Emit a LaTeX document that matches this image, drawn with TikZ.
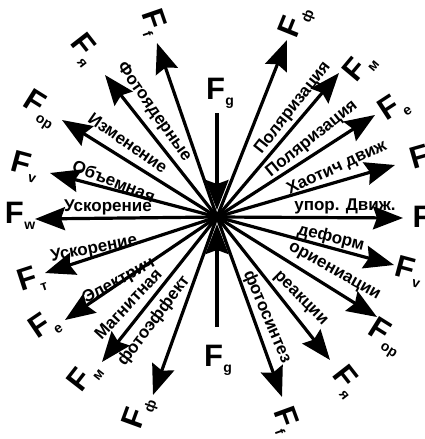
\documentclass[tikz,border=0pt]{standalone}
\usepackage{fontspec}
\setmainfont{Liberation Sans}
\usetikzlibrary{arrows.meta}
\newcommand\flab[1]{{\fontsize{31}{31}\selectfont F}\kern0.5pt\raisebox{-6pt}{\fontsize{14}{14}\selectfont #1}}
\begin{document}
\begin{tikzpicture}[x=1pt,y=-1pt,
  arr/.style={line width=3.2pt,-{Stealth[length=30pt,width=23pt,inset=4pt]}},
  txt/.style={font=\bfseries\fontsize{17}{17}\selectfont, inner sep=0pt},
  lab/.style={font=\bfseries, inner sep=0pt}]
\useasboundingbox (0,0) rectangle (424,439);
\clip (0,0) rectangle (424,439);
\coordinate (C) at (217,217);
% tips
\coordinate (lFf) at (157,43);
\coordinate (lFya) at (105,75);
\coordinate (lFop) at (62,120);
\coordinate (lFv) at (50,173);
\coordinate (lFw) at (35,219);
\coordinate (lFt) at (45,273);
\coordinate (lFe) at (65,320);
\coordinate (lFm) at (102,362);
\coordinate (lFph) at (153,395);
\coordinate (rFph) at (287,40);
\coordinate (rFm) at (339,73);
\coordinate (rFe) at (375,115);
\coordinate (rF1) at (395,165);
\coordinate (rF2) at (403,218);
\coordinate (rFv) at (394,265);
\coordinate (rFop) at (377,317);
\coordinate (rFya) at (330,360);
\coordinate (rFf) at (282,397);
\coordinate (gT) at (217,113);
\coordinate (gTe) at (217,210);
\coordinate (gB) at (217,327);
\coordinate (gBe) at (217,224);
% arrows
\foreach \t in {lFf,lFya,lFop,lFv,lFw,lFt,lFe,lFm,lFph,rFph,rFm,rFe,rF1,rF2,rFv,rFop,rFya,rFf}
  \draw[arr] (C) -- (\t);
\draw[arr] (gT) -- (gTe);
\draw[arr] (gB) -- (gBe);
% end labels
\node[lab] (Lg1) at (220,93) {\flab{g}};
\node[lab] (Lg2) at (218,360) {\flab{g}};
\node[lab,rotate=-71] (L1) at (153,22) {\flab{f}};
\node[lab,rotate=-52] (L2) at (84,50) {\flab{я}};
\node[lab,rotate=-32] (L3) at (40,110) {\flab{ор}};
\node[lab,rotate=-15] (L4) at (25,167) {\flab{v}};
\node[lab] (L5) at (20,216) {\flab{w}};
\node[lab,rotate=18] (L6) at (32,280) {\flab{т}};
\node[lab,rotate=34] (L7) at (45,326) {\flab{e}};
\node[lab,rotate=52] (L8) at (85,377) {\flab{м}};
\node[lab,rotate=70] (L9) at (140,413) {\flab{ф}};
\node[lab,rotate=68] (R1) at (297,22) {\flab{ф}};
\node[lab,rotate=50] (R2) at (360,67) {\flab{м}};
\node[lab,rotate=33] (R3) at (394,108) {\flab{e}};
\node[lab,rotate=16,font=\bfseries\fontsize{31}{31}\selectfont] (R4) at (420,157) {F};
\node[lab,font=\bfseries\fontsize{31}{31}\selectfont] (R5) at (422,217) {F};
\node[lab,rotate=-15] (R6) at (409,272) {\flab{v}};
\node[lab,rotate=-32] (R7) at (385,338) {\flab{ор}};
\node[lab,rotate=-52] (R8) at (346,382) {\flab{я}};
\node[lab,rotate=-70] (R9) at (285,420) {\flab{f}};
% texts along arrows
\node[txt,rotate=52] (t1) at (293,108) {Поляризация};
\node[txt,rotate=39] (t2) at (312,139) {Поляризация};
\node[txt,rotate=25] (t3) at (337,168) {Хаотич движ};
\node[txt] (t4) at (345,206) {упор. Движ.};
\node[txt,rotate=-14] (t5) at (331,238) {деформ};
\node[txt,rotate=-29] (t6) at (334,272) {ориениации};
\node[txt,rotate=-45] (t7) at (300,299) {реакции};
\node[txt,rotate=-67] (t8) at (267,317) {фотосинтез};
\node[txt] (t9) at (108,207) {Ускорение};
\node[txt,rotate=-22] (t10) at (114,181) {Объемная};
\node[txt,rotate=-35] (t11) at (128,143) {Изменение};
\node[txt,rotate=-55] (t12) at (154,112) {Фотоядерные};
\node[txt,rotate=11] (t13) at (94,249) {Ускорение};
\node[txt,rotate=29] (t14) at (119,281) {Электрич};
\node[txt,rotate=47] (t15) at (128,304) {Магнитная};
\node[txt,rotate=53] (t16) at (154,321) {фотоэффект};
\end{tikzpicture}
\end{document}
